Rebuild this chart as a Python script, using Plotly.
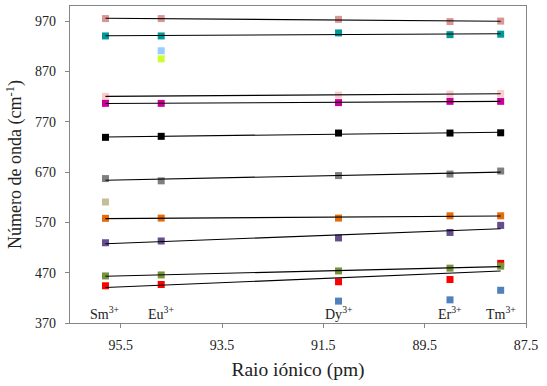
import numpy as np
import plotly.graph_objects as go

# Ionic radii (pm) and ion labels
radii = [95.8, 94.7, 91.2, 89.0, 88.0]
ions = ["Sm<sup>3+</sup>", "Eu<sup>3+</sup>", "Dy<sup>3+</sup>", "Er<sup>3+</sup>", "Tm<sup>3+</sup>"]

# Wavenumber series (cm-1); None = no band
s_rosy    = [975, 975, 973.5, 969, 970]
s_teal    = [940.5, 940.5, 946.5, 943, 944]
s_ltblue  = [None, 911, None, None, None]
s_yellow  = [None, 895, None, None, None]
s_ltpink  = [820.5, None, 823, 825, 826]
s_magenta = [806.5, 806.5, 808, 810.5, 810.5]
s_black   = [739, 741, 747.5, 747.5, 748]
s_gray    = [657, 652.5, 663, 666, 672]
s_tan     = [610.5, None, None, None, None]
s_orange  = [578, 578.5, 578.5, 583, 583]
s_purple  = [529.5, 533, 539, 550, 564]
s_red     = [444, 446.5, 452, 456.5, 488.5]
s_green   = [463.5, 465.5, 473.5, 479, 483]
s_blue    = [None, None, 413.5, 416, 435]

series = [
    (s_rosy, "#D99694", True),
    (s_teal, "#009999", True),
    (s_ltblue, "#99CCFF", False),
    (s_yellow, "#CCFF33", False),
    (s_ltpink, "#FCCCCC", True),
    (s_magenta, "#CC0099", True),
    (s_black, "#000000", True),
    (s_gray, "#7F7F7F", True),
    (s_tan, "#C4BD97", False),
    (s_orange, "#E46C0A", True),
    (s_purple, "#664E8C", True),
    (s_red, "#FF0000", True),
    (s_green, "#77933C", True),
    (s_blue, "#4F81BD", False),
]

y_ticks = [370, 470, 570, 670, 770, 870, 970]
x_ticks = [95.5, 93.5, 91.5, 89.5, 87.5]

SERIF = "Liberation Serif, Times New Roman, serif"

fig = go.Figure()

for vals, color, trend in series:
    fig.add_trace(go.Scatter(
        x=radii, y=vals, mode="markers",
        marker=dict(symbol="square", size=7, color=color, line=dict(width=0)),
        showlegend=False, hoverinfo="x+y"))

for vals, color, trend in series:
    if trend:
        xs = np.array([r for r, v in zip(radii, vals) if v is not None])
        ys = np.array([v for v in vals if v is not None])
        k, b = np.polyfit(xs, ys, 1)
        xl = [xs.max(), xs.min()]
        fig.add_trace(go.Scatter(
            x=xl, y=[k * xl[0] + b, k * xl[1] + b], mode="lines",
            line=dict(color="black", width=1.1),
            showlegend=False, hoverinfo="skip"))

for r, lab in zip(radii, ions):
    fig.add_annotation(x=r, y=390, xref="x", yref="y", text=lab,
                       showarrow=False, font=dict(family=SERIF, size=14, color="#222222"),
                       xanchor="center", yanchor="middle")

axis_common = dict(
    showgrid=False, zeroline=False, showline=True, linecolor="#868686",
    linewidth=1.3, mirror=True, ticks="outside", ticklen=4, tickcolor="#868686",
    tickfont=dict(family=SERIF, size=14, color="#222222"), automargin=False,
)

fig.update_layout(
    width=547, height=386,
    margin=dict(l=70, r=21, t=6, b=63),
    plot_bgcolor="white", paper_bgcolor="white",
    font=dict(family=SERIF),
    xaxis=dict(range=[96.5, 87.5], tickvals=x_ticks,
               ticktext=[str(v) for v in x_ticks], ticklabelstandoff=5,
               title=dict(text="Raio iónico (pm)", font=dict(family=SERIF, size=19.5, color="#222222"),
                          standoff=10),
               **axis_common),
    yaxis=dict(range=[370, 1000], tickvals=y_ticks,
               ticktext=[str(v) for v in y_ticks], ticklabelstandoff=6,
               title=dict(text="Número de onda (cm<sup>-1</sup>)",
                          font=dict(family=SERIF, size=18, color="#222222"), standoff=8),
               **axis_common),
)

fig.write_html("out.html", config={"displayModeBar": False},
               post_script="document.body.style.margin='0';document.body.style.padding='0';")
